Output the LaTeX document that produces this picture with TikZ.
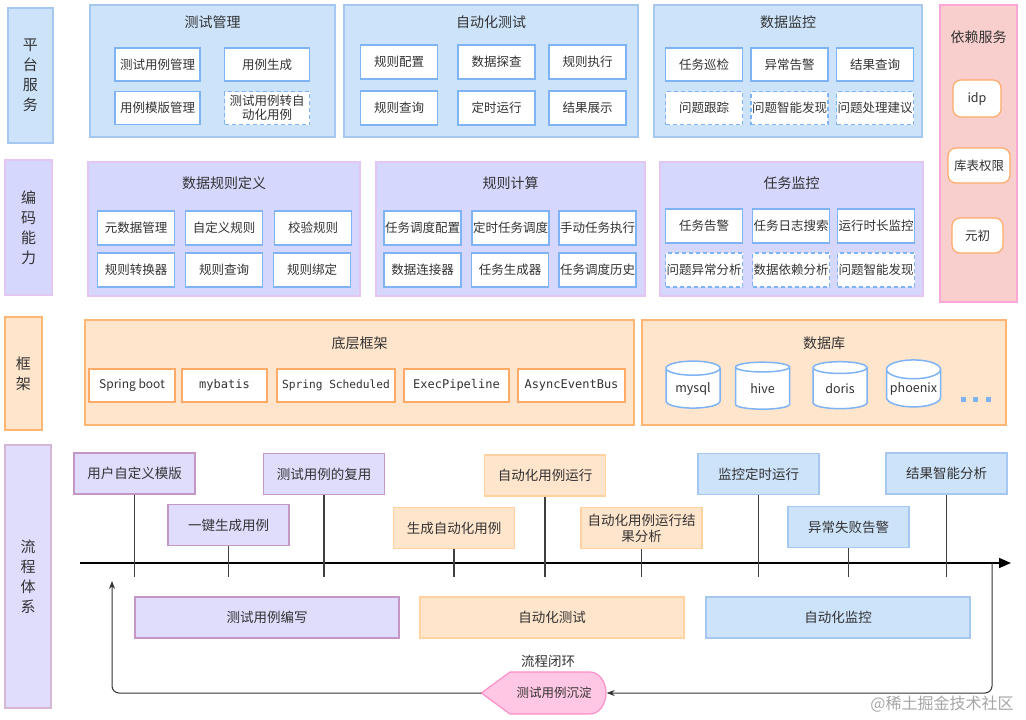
\documentclass[tikz,border=0pt]{standalone}
\usepackage{fontspec}
\setmainfont{Noto Sans CJK SC}
\setmonofont{DejaVu Sans Mono}
\usepackage{tikz}
\usetikzlibrary{shapes,arrows.meta,positioning,calc,backgrounds}

\definecolor{grpblue}{HTML}{CDE3FA}
\definecolor{lineblue}{HTML}{A6C8F0}
\definecolor{inblue}{HTML}{7EB3F5}
\definecolor{grplav}{HTML}{D5D7FC}
\definecolor{linelav}{HTML}{E3C6F2}
\definecolor{proclav}{HTML}{DFDCFC}
\definecolor{procline}{HTML}{C597C5}
\definecolor{grporange}{HTML}{FFE5CC}
\definecolor{lineorange}{HTML}{FFB672}
\definecolor{inorange}{HTML}{FFAA66}
\definecolor{procorange}{HTML}{FFD2A0}
\definecolor{grppink}{HTML}{F8CFCC}
\definecolor{linepink}{HTML}{FFA6D8}
\definecolor{settlefill}{HTML}{FFC7E3}
\definecolor{settleline}{HTML}{FF8FC8}
\definecolor{txt}{HTML}{333333}

\tikzset{
  every node/.style={text=txt},
  layerlabel/.style={draw, line width=1.2pt, align=center, inner sep=0pt, font=\fontsize{15}{20}\selectfont},
  group/.style={draw, line width=1.2pt, inner sep=0pt},
  grouptitle/.style={font=\fontsize{14}{16}\selectfont},
  inbox/.style={draw=inblue, fill=white, line width=1.2pt, inner sep=0pt, align=center,
    minimum width=77, minimum height=34, font=\fontsize{12.5}{14.5}\selectfont},
  dashbox/.style={inbox, dash pattern=on 4pt off 3pt},
  fwbox/.style={inbox, draw=inorange, minimum height=33, font=\ttfamily\fontsize{12}{14}\selectfont},
  depbox/.style={inbox, draw=inorange, rounded corners=8pt, minimum height=35},
  dbcyl/.style={cylinder, shape border rotate=90, aspect=0.4, draw=inblue, fill=white, line width=1.5pt,
    minimum width=54, minimum height=47, inner sep=0pt, font=\fontsize{12.5}{14}\selectfont},
  procbox/.style={draw, line width=1.2pt, minimum width=121, minimum height=41, inner sep=0pt,
    align=center, font=\fontsize{13.5}{16}\selectfont},
  phasebox/.style={procbox, minimum width=264},
  tick/.style={draw=black!75, line width=1.2pt},
  flowaxis/.style={line width=1.6pt, -{Triangle[length=12pt,width=10pt]}},
  loopline/.style={draw=black!80, line width=1pt, rounded corners=7pt, -{Stealth[length=8pt,width=6pt]}}
}

\begin{document}
\begin{tikzpicture}[x=1pt, y=-1pt]
    \begin{scope}[on background layer]
        \fill[white] (0,0) rectangle (1026,720);
    \end{scope}
    \useasboundingbox (0,0) rectangle (1026,720);

    % left layer labels
    \node[layerlabel, fill=grpblue, draw=lineblue, minimum width=45, minimum height=135] (lplat) at (30.5,75.5) {平\\台\\服\\务};
    \node[layerlabel, fill=grplav, draw=linelav, minimum width=47, minimum height=135] (lcode) at (28.5,227.5) {编\\码\\能\\力};
    \node[layerlabel, fill=grporange, draw=lineorange, minimum width=37, minimum height=113] (lframe) at (23.5,373.5) {框\\架};
    \node[layerlabel, fill=proclav, draw=procline!70, minimum width=46, minimum height=263] (lflow) at (28,576.5) {流\\程\\体\\系};

    % platform services: test management
    \node[group, fill=grpblue, draw=lineblue, minimum width=245, minimum height=132] (testmgmt) at (212.5,71) {};
    \node[grouptitle] (testmgmtT) at (212.5,22) {测试管理};
    \foreach \x/\t [count=\i] in {157.5/测试用例管理, 267/用例生成}
        \node[inbox, minimum width=85, minimum height=33] (tmA\i) at (\x,64.5) {\t};
    \node[inbox, minimum width=85, minimum height=33] (tmB1) at (157.5,108) {用例模版管理};
    \node[dashbox, minimum width=85, minimum height=33] (tmB2) at (267,108) {测试用例转自\\动化用例};

    % platform services: automated test
    \node[group, fill=grpblue, draw=lineblue, minimum width=294, minimum height=132] (autotest) at (491,71) {};
    \node[grouptitle] (autotestT) at (491,22) {自动化测试};
    \foreach \x/\t [count=\i] in {399/规则配置, 496.5/数据探查, 587.5/规则执行}
        \node[inbox] (atA\i) at (\x,62) {\t};
    \foreach \x/\t [count=\i] in {399/规则查询, 496.5/定时运行, 587.5/结果展示}
        \node[inbox] (atB\i) at (\x,108) {\t};

    % platform services: data monitoring
    \node[group, fill=grpblue, draw=lineblue, minimum width=268, minimum height=132] (datamon) at (788,71) {};
    \node[grouptitle] (datamonT) at (788,22) {数据监控};
    \foreach \x/\t [count=\i] in {704/任务巡检, 789.5/异常告警, 875/结果查询}
        \node[inbox, minimum height=33] (dmA\i) at (\x,64.5) {\t};
    \foreach \x/\t [count=\i] in {704/问题跟踪, 789.5/问题智能发现, 875/问题处理建议}
        \node[dashbox, minimum height=33] (dmB\i) at (\x,108) {\t};

    % dependent services
    \node[group, fill=grppink, draw=linepink, minimum width=77, minimum height=297] (depend) at (978.5,153.5) {};
    \node[grouptitle] (dependT) at (978.5,37) {依赖服务};
    \node[depbox, minimum width=48, minimum height=37] (idp) at (977,98.5) {idp};
    \node[depbox, minimum width=62] (tableauth) at (979,165.5) {库表权限};
    \node[depbox, minimum width=51] (yuanchu) at (977.5,235.5) {元初};

    % coding ability: data rule definition
    \node[group, fill=grplav, draw=linelav, minimum width=272, minimum height=134] (ruledef) at (224,229) {};
    \node[grouptitle] (ruledefT) at (224,183) {数据规则定义};
    \foreach \x/\t [count=\i] in {136/元数据管理, 224/自定义规则, 313/校验规则}
        \node[inbox] (rdA\i) at (\x,228) {\t};
    \foreach \x/\t [count=\i] in {136/规则转换器, 224/规则查询, 312/规则绑定}
        \node[inbox] (rdB\i) at (\x,270) {\t};

    % coding ability: rule computing
    \node[group, fill=grplav, draw=linelav, minimum width=269, minimum height=134] (rulecalc) at (510.5,229) {};
    \node[grouptitle] (rulecalcT) at (510.5,183) {规则计算};
    \foreach \x/\t [count=\i] in {422.5/任务调度配置, 510.5/定时任务调度, 597.5/手动任务执行}
        \node[inbox] (rcA\i) at (\x,228) {\t};
    \foreach \x/\t [count=\i] in {422.5/数据连接器, 510/任务生成器, 597.5/任务调度历史}
        \node[inbox] (rcB\i) at (\x,270) {\t};

    % coding ability: task monitoring
    \node[group, fill=grplav, draw=linelav, minimum width=263, minimum height=134] (taskmon) at (791.5,229) {};
    \node[grouptitle] (taskmonT) at (791.5,183) {任务监控};
    \foreach \x/\t [count=\i] in {704/任务告警, 791/任务日志搜索, 876/运行时长监控}
        \node[inbox] (tkA\i) at (\x,226) {\t};
    \foreach \x/\t [count=\i] in {704/问题异常分析, 791/数据依赖分析, 876/问题智能发现}
        \node[dashbox] (tkB\i) at (\x,270) {\t};

    % framework
    \node[group, fill=grporange, draw=lineorange, minimum width=549, minimum height=105] (basefw) at (359.5,372.5) {};
    \node[grouptitle] (basefwT) at (359.5,343) {底层框架};
    \node[fwbox, minimum width=86, font=\fontsize{12}{14}\selectfont] (springboot) at (132,385.5) {Spring boot};
    \node[fwbox, minimum width=85] (mybatis) at (224.5,385.5) {mybatis};
    \node[fwbox, minimum width=118, font=\ttfamily\fontsize{11.2}{14}\selectfont] (scheduled) at (336,385.5) {Spring Scheduled};
    \node[fwbox, minimum width=105] (pipeline) at (456.5,385.5) {ExecPipeline};
    \node[fwbox, minimum width=107] (eventbus) at (571.5,385.5) {AsyncEventBus};

    % databases
    \node[group, fill=grporange, draw=lineorange, minimum width=364, minimum height=105] (database) at (824,372.5) {};
    \node[grouptitle] (databaseT) at (824,343) {数据库};
    \foreach \x/\t [count=\i] in {693/mysql, 762.5/hive, 840/doris, 913.5/phoenix}
        \node[dbcyl] (db\i) at (\x,388.5) {\t};
    \foreach \x in {963,975.5,988}
        \fill[inblue] (\x-2.5,396.5) rectangle +(5,5);

    % flow: time axis
    \coordinate (axstart) at (80,563);
    \coordinate (axend) at (1011,563);
    \coordinate (tickend) at (0,577);
    \draw[flowaxis] (axstart) -- (axend);

    % flow: events on the axis
    \foreach \x/\y/\t [count=\i] in {134.5/473.5/用户自定义模版, 228.5/525/一键生成用例, 324/474/测试用例的复用}
        \node[procbox, fill=proclav, draw=procline] (ev\i) at (\x,\y) {\t};
    \foreach \x/\y/\t [count=\i from 4] in {454/528/生成自动化用例, 545/475.5/自动化用例运行, 641.5/528/{自动化用例运行结\\果分析}}
        \node[procbox, fill=grporange, draw=procorange] (ev\i) at (\x,\y) {\t};
    \foreach \x/\y/\t [count=\i from 7] in {758.5/474/监控定时运行, 848.5/527/异常失败告警, 946.5/473.5/结果智能分析}
        \node[procbox, fill=grpblue, draw=lineblue] (ev\i) at (\x,\y) {\t};
    \foreach \i in {1,...,9}
        \draw[tick] (ev\i.south) -- (ev\i.south |- tickend);

    % flow: phases
    \node[phasebox, fill=proclav, draw=procline] (phwrite) at (267,617.5) {测试用例编写};
    \node[phasebox, fill=grporange, draw=procorange] (phauto) at (552,617.5) {自动化测试};
    \node[phasebox, fill=grpblue, draw=lineblue] (phmon) at (838,617.5) {自动化监控};

    % flow: closed loop
    \node[font=\fontsize{13.5}{16}\selectfont] (loopT) at (548,661) {流程闭环};
    \node[font=\fontsize{12.5}{14}\selectfont, inner sep=0pt] (settle) at (554,693) {测试用例沉淀};
    \coordinate (settleE) at ([xshift=15]settle.east);
    \coordinate (settleW) at ([xshift=-35]settle.west);
    \begin{scope}[on background layer]
        \filldraw[fill=settlefill, draw=settleline, line width=1.2pt] (settleW) -- (510,672) -- (590,672)
            arc[start angle=90, end angle=-90, x radius=16pt, y radius=21pt] -- (510,714) -- cycle;
    \end{scope}
    \coordinate (loopR) at (992,563);
    \coordinate (loopUp) at (112,581);
    \draw[loopline] (loopR) |- (settleE);
    \draw[loopline] (settleW) -| (loopUp);

    \node[text=black!35, font=\fontsize{16}{18}\selectfont] (mark) at (942,704) {@稀土掘金技术社区};
\end{tikzpicture}
\end{document}
